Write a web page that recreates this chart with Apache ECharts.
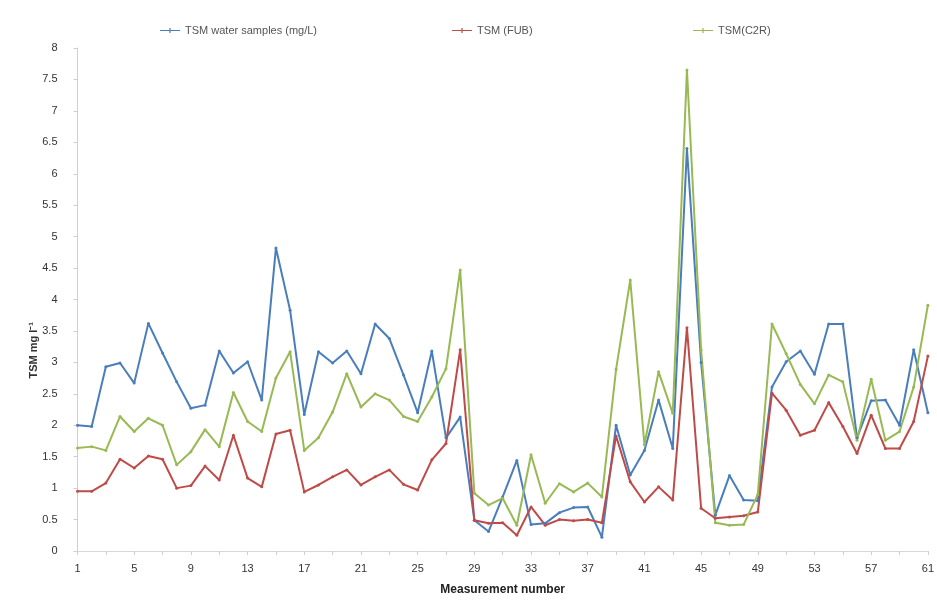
<!DOCTYPE html>
<html>
<head>
<meta charset="utf-8">
<script src="https://cdn.jsdelivr.net/npm/echarts@6/dist/echarts.min.js"></script>
<style>
html,body{margin:0;padding:0;background:#fff;}
#chart{width:937px;height:605px;}
</style>
</head>
<body>
<div id="chart"></div>
<script>
var categories = [];
for (var k = 1; k <= 61; k++) categories.push(String(k));

var seriesNames = ['TSM water samples (mg/L)', 'TSM (FUB)', 'TSM(C2R)'];

var waterSamples = [2.0,1.98,2.93,2.99,2.67,3.62,3.15,2.69,2.27,2.32,
  3.18,2.83,3.01,2.40,4.82,3.83,2.17,3.17,2.99,3.18,
  2.82,3.61,3.38,2.8,2.2,3.18,1.8,2.13,0.49,0.31,
  0.86,1.44,0.42,0.44,0.61,0.69,0.7,0.22,2.0,1.21,
  1.6,2.4,1.63,6.4,3.0,0.57,1.2,0.81,0.8,2.61,
  3.01,3.18,2.81,3.61,3.61,1.8,2.39,2.4,2.0,3.2,2.2];

var tsmFUB = [0.95,0.95,1.08,1.46,1.32,1.51,1.46,1.0,1.04,1.35,
  1.13,1.84,1.16,1.02,1.86,1.92,0.94,1.05,1.18,1.29,
  1.05,1.18,1.29,1.06,0.97,1.45,1.71,3.2,0.49,0.44,
  0.45,0.25,0.7,0.41,0.5,0.48,0.5,0.45,1.83,1.1,
  0.78,1.02,0.81,3.55,0.68,0.52,0.54,0.56,0.62,2.51,
  2.24,1.84,1.92,2.36,1.98,1.55,2.16,1.63,1.63,2.06,3.1];

var tsmC2R = [1.64,1.66,1.6,2.14,1.9,2.11,2.0,1.37,1.58,1.93,
  1.66,2.52,2.06,1.9,2.75,3.17,1.6,1.8,2.21,2.82,
  2.29,2.5,2.4,2.14,2.06,2.45,2.9,4.47,0.92,0.73,
  0.84,0.41,1.53,0.76,1.07,0.94,1.08,0.86,2.89,4.31,
  1.69,2.85,2.19,7.65,3.2,0.45,0.41,0.42,0.9,3.61,
  3.14,2.65,2.34,2.8,2.69,1.76,2.73,1.76,1.9,2.61,3.91];

var colors = ['#4a7ebb', '#be4b48', '#98b954'];
var font = 'Liberation Sans Narrow, Liberation Sans, sans-serif';

function mkSeries(name, data, color) {
  return {
    name: name, type: 'line', data: data,
    symbol: 'circle', symbolSize: 3, showSymbol: true,
    lineStyle: {width: 2, color: color},
    itemStyle: {color: color},
    animation: false
  };
}
function mkLegend(name, left) {
  return {
    data: [name], left: left, top: 20, itemWidth: 20, itemHeight: 8,
    icon: 'path://M0,4 L20,4 L20,5 L0,5 Z M9.4,2 L10.6,2 L10.6,7 L9.4,7 Z',
    textStyle: {fontFamily: font, fontSize: 11, color: '#555'}
  };
}

var chart = echarts.init(document.getElementById('chart'), null, {renderer: 'canvas'});
chart.setOption({
  backgroundColor: '#fff',
  color: colors,
  animation: false,
  legend: [mkLegend(seriesNames[0], 155), mkLegend(seriesNames[1], 447), mkLegend(seriesNames[2], 688)],
  grid: {left: 77.5, right: 8.7, top: 48, bottom: 54, containLabel: false},
  xAxis: {
    type: 'category', data: categories, boundaryGap: false,
    name: 'Measurement number', nameLocation: 'middle', nameGap: 33,
    nameTextStyle: {fontFamily: font, fontSize: 12, fontWeight: 'bold', color: '#222'},
    axisLine: {show: true, lineStyle: {color: '#d8d8d8'}},
    axisTick: {show: true, interval: 1, length: 4, lineStyle: {color: '#cfcfcf'}},
    axisLabel: {interval: 3, margin: 12, fontFamily: font, fontSize: 11, color: '#333'},
    splitLine: {show: false}
  },
  yAxis: {
    type: 'value', min: 0, max: 8, interval: 0.5,
    axisLine: {show: true, lineStyle: {color: '#cfcfcf'}},
    axisTick: {show: true, length: 4, lineStyle: {color: '#cfcfcf'}},
    axisLabel: {margin: 20, fontFamily: font, fontSize: 11, color: '#333'},
    splitLine: {show: false}
  },
  graphic: [{
    type: 'text', left: 28, top: 322, rotation: Math.PI / 2,
    style: {text: 'TSM mg l\u207B\u00B9', font: 'bold 11px ' + font, fill: '#333'}
  }],
  series: [
    mkSeries(seriesNames[0], waterSamples, colors[0]),
    mkSeries(seriesNames[1], tsmFUB, colors[1]),
    mkSeries(seriesNames[2], tsmC2R, colors[2])
  ]
});
</script>
</body>
</html>
